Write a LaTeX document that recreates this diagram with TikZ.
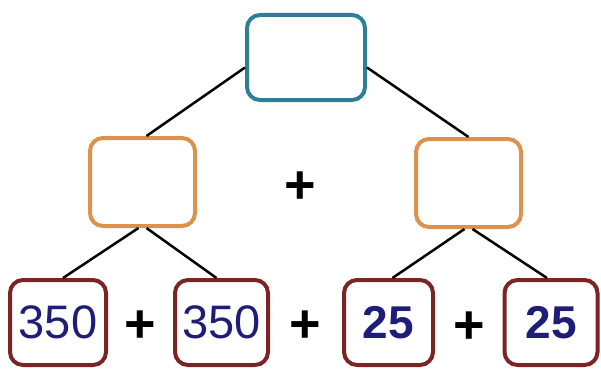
\documentclass[tikz,border=0pt]{standalone}
\usepackage{fontspec}
\setmainfont{Liberation Sans}
\definecolor{teal1}{HTML}{2E7F96}
\definecolor{orange1}{HTML}{DC914C}
\definecolor{red1}{HTML}{7B2424}
\definecolor{navy1}{HTML}{1E1E78}
\begin{document}
\begin{tikzpicture}[x=1pt,y=-1pt,
  box/.style={draw,line width=4pt,rounded corners=13pt,fill=white,inner sep=0pt,minimum height=85pt},
  topbox/.style={box,draw=teal1,minimum width=118pt},
  midbox/.style={box,draw=orange1,minimum width=105pt,minimum height=88pt},
  leafbox/.style={box,draw=red1,text=navy1,font=\fontsize{47}{47}\selectfont},
  plus/.style={font=\fontsize{54}{54}\selectfont\bfseries,inner sep=0pt},
  link/.style={line width=2.5pt,black}]
\useasboundingbox (0,0) rectangle (601,369);
\node[topbox] (top) at (306,57.5) {};
\node[midbox] (ml) at (142.5,182) {};
\node[midbox] (mr) at (468.5,183) {};
\node[leafbox,minimum width=96pt] (b1) at (58,322.5) {350};
\node[leafbox,minimum width=93pt] (b2) at (221.5,322.5) {350};
\node[leafbox,minimum width=89pt,font=\fontsize{46}{46}\selectfont\bfseries] (b3) at (388.5,322.5) {25};
\node[leafbox,minimum width=93pt,font=\fontsize{46}{46}\selectfont\bfseries] (b4) at (551,322.5) {25};
\node[plus] (p0) at (300,188) {+};
\node[plus] (p1) at (140,327) {+};
\node[plus] (p2) at (305,327) {+};
\node[plus] (p3) at (469,328) {+};
\draw[link] ([yshift=-10pt]top.west) -- ([xshift=4pt]ml.north);
\draw[link] ([yshift=-10pt]top.east) -- (mr.north);
\draw[link] ([xshift=-4pt]ml.south) -- ([xshift=5pt]b1.north);
\draw[link] ([xshift=4pt]ml.south) -- ([xshift=-5pt]b2.north);
\draw[link] ([xshift=-4pt]mr.south) -- ([xshift=4pt]b3.north);
\draw[link] ([xshift=4pt]mr.south) -- ([xshift=-4pt]b4.north);
\end{tikzpicture}
\end{document}
